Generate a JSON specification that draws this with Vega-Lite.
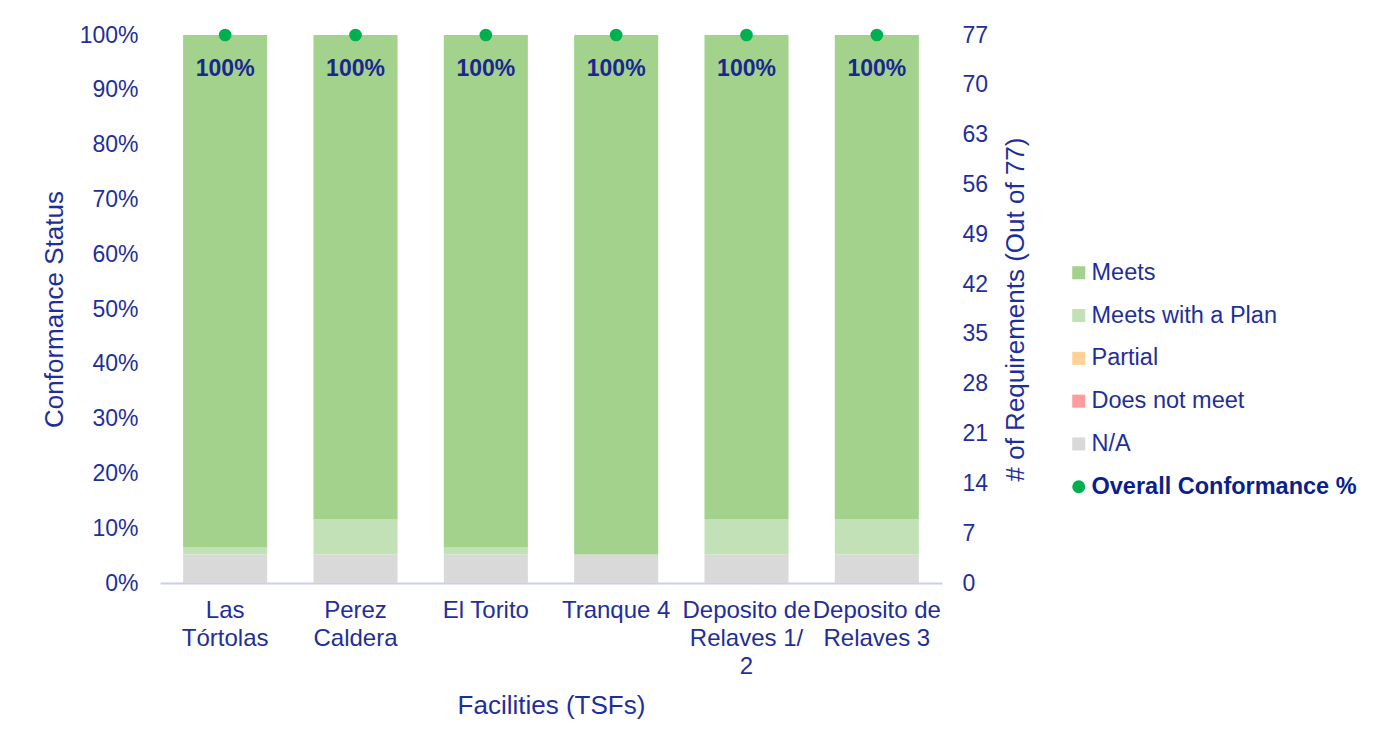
{
  "$schema": "https://vega.github.io/schema/vega-lite/v6.json",
  "width": 782,
  "height": 548,
  "autosize": {"type": "none"},
  "padding": {"left": 160, "top": 35, "right": 453, "bottom": 168},
  "background": "white",
  "config": {
    "font": "Liberation Sans",
    "view": {"stroke": null},
    "axis": {"labelColor": "#1F2F9A", "titleColor": "#1F2F9A", "labelFontSize": 23, "titleFontSize": 26, "titleFontWeight": "normal", "grid": false, "ticks": false, "labelFont": "Liberation Sans", "titleFont": "Liberation Sans"}
  },
  "layer": [
    {
      "data": {"values": [
        {"Facility": "Las Tórtolas", "Status": "N/A", "ord": 1, "count": 4},
        {"Facility": "Las Tórtolas", "Status": "Does not meet", "ord": 2, "count": 0},
        {"Facility": "Las Tórtolas", "Status": "Partial", "ord": 3, "count": 0},
        {"Facility": "Las Tórtolas", "Status": "Meets with a Plan", "ord": 4, "count": 1},
        {"Facility": "Las Tórtolas", "Status": "Meets", "ord": 5, "count": 72},
        {"Facility": "Perez Caldera", "Status": "N/A", "ord": 1, "count": 4},
        {"Facility": "Perez Caldera", "Status": "Does not meet", "ord": 2, "count": 0},
        {"Facility": "Perez Caldera", "Status": "Partial", "ord": 3, "count": 0},
        {"Facility": "Perez Caldera", "Status": "Meets with a Plan", "ord": 4, "count": 5},
        {"Facility": "Perez Caldera", "Status": "Meets", "ord": 5, "count": 68},
        {"Facility": "El Torito", "Status": "N/A", "ord": 1, "count": 4},
        {"Facility": "El Torito", "Status": "Does not meet", "ord": 2, "count": 0},
        {"Facility": "El Torito", "Status": "Partial", "ord": 3, "count": 0},
        {"Facility": "El Torito", "Status": "Meets with a Plan", "ord": 4, "count": 1},
        {"Facility": "El Torito", "Status": "Meets", "ord": 5, "count": 72},
        {"Facility": "Tranque 4", "Status": "N/A", "ord": 1, "count": 4},
        {"Facility": "Tranque 4", "Status": "Does not meet", "ord": 2, "count": 0},
        {"Facility": "Tranque 4", "Status": "Partial", "ord": 3, "count": 0},
        {"Facility": "Tranque 4", "Status": "Meets with a Plan", "ord": 4, "count": 0},
        {"Facility": "Tranque 4", "Status": "Meets", "ord": 5, "count": 73},
        {"Facility": "Deposito de Relaves 1/2", "Status": "N/A", "ord": 1, "count": 4},
        {"Facility": "Deposito de Relaves 1/2", "Status": "Does not meet", "ord": 2, "count": 0},
        {"Facility": "Deposito de Relaves 1/2", "Status": "Partial", "ord": 3, "count": 0},
        {"Facility": "Deposito de Relaves 1/2", "Status": "Meets with a Plan", "ord": 4, "count": 5},
        {"Facility": "Deposito de Relaves 1/2", "Status": "Meets", "ord": 5, "count": 68},
        {"Facility": "Deposito de Relaves 3", "Status": "N/A", "ord": 1, "count": 4},
        {"Facility": "Deposito de Relaves 3", "Status": "Does not meet", "ord": 2, "count": 0},
        {"Facility": "Deposito de Relaves 3", "Status": "Partial", "ord": 3, "count": 0},
        {"Facility": "Deposito de Relaves 3", "Status": "Meets with a Plan", "ord": 4, "count": 5},
        {"Facility": "Deposito de Relaves 3", "Status": "Meets", "ord": 5, "count": 68}
      ]},
      "mark": {"type": "bar"},
      "encoding": {
        "x": {
          "field": "Facility", "type": "nominal", "sort": null,
          "scale": {"paddingInner": 0.355, "paddingOuter": 0.1775},
          "axis": {
            "title": "Facilities (TSFs)", "labelAngle": 0, "domainColor": "#C9CEF2", "domainWidth": 2,
            "labelPadding": 15, "labelLineHeight": 28, "titlePadding": 14, "labelBaseline": "top", "labelFontSize": 24, "labelLimit": 200,
            "labelExpr": "datum.value == 'Las Tórtolas' ? ['Las', 'Tórtolas'] : datum.value == 'Perez Caldera' ? ['Perez', 'Caldera'] : datum.value == 'Deposito de Relaves 1/2' ? ['Deposito de', 'Relaves 1/', '2'] : datum.value == 'Deposito de Relaves 3' ? ['Deposito de', 'Relaves 3'] : datum.value"
          }
        },
        "y": {
          "field": "count", "type": "quantitative", "stack": "zero",
          "scale": {"domain": [0, 77], "nice": false},
          "axis": {"orient": "right", "title": "# of Requirements (Out of 77)", "titleAngle": 270, "values": [0, 7, 14, 21, 28, 35, 42, 49, 56, 63, 70, 77], "domain": false, "labelPadding": 20, "titlePadding": 41}
        },
        "order": {"field": "ord", "type": "quantitative"},
        "color": {
          "field": "Status", "type": "nominal",
          "scale": {
            "domain": ["Meets", "Meets with a Plan", "Partial", "Does not meet", "N/A", "Overall Conformance %"],
            "range": ["#A2D28C", "#C2E1B6", "#FFD199", "#FF9C9C", "#D9D9D9", "#00B050"]
          },
          "legend": {
            "title": null, "orient": "none", "legendX": 907, "legendY": 226,
            "labelFontSize": 23.5, "labelColor": "#1F2F9A", "labelFont": "Liberation Sans", "labelLimit": 400,
            "symbolSize": 170, "symbolType": "square", "symbolStrokeWidth": 0, "rowPadding": 17.8, "labelOffset": 1,
            "encode": {
              "symbols": {"update": {"shape": {"signal": "datum.value === 'Overall Conformance %' ? 'circle' : 'square'"}, "strokeWidth": {"value": 0}}},
              "labels": {"update": {"fontWeight": {"signal": "datum.value === 'Overall Conformance %' ? 'bold' : 'normal'"}, "fill": {"signal": "datum.value === 'Overall Conformance %' ? '#0B1F8C' : '#1F2F9A'"}}}
            }
          }
        }
      }
    },
    {
      "data": {"values": [
        {"Facility": "Las Tórtolas", "Status": "Overall Conformance %", "pct": 1},
        {"Facility": "Perez Caldera", "Status": "Overall Conformance %", "pct": 1},
        {"Facility": "El Torito", "Status": "Overall Conformance %", "pct": 1},
        {"Facility": "Tranque 4", "Status": "Overall Conformance %", "pct": 1},
        {"Facility": "Deposito de Relaves 1/2", "Status": "Overall Conformance %", "pct": 1},
        {"Facility": "Deposito de Relaves 3", "Status": "Overall Conformance %", "pct": 1}
      ]},
      "layer": [
        {
          "mark": {"type": "point", "filled": true, "opacity": 1, "size": 160, "shape": "circle"},
          "encoding": {
            "x": {"field": "Facility", "type": "nominal", "sort": null},
            "y": {
              "field": "pct", "type": "quantitative",
              "scale": {"domain": [0, 1], "nice": false},
              "axis": {"orient": "left", "title": "Conformance Status", "values": [0, 0.1, 0.2, 0.3, 0.4, 0.5, 0.6, 0.7, 0.8, 0.9, 1], "format": ".0%", "domain": false, "labelPadding": 22, "titlePadding": 12}
            },
            "color": {"field": "Status", "type": "nominal"}
          }
        },
        {
          "mark": {"type": "text", "dy": 34, "fontSize": 23, "fontWeight": "bold", "color": "#1A2790", "font": "Liberation Sans"},
          "encoding": {
            "x": {"field": "Facility", "type": "nominal", "sort": null},
            "y": {"field": "pct", "type": "quantitative"},
            "text": {"field": "pct", "type": "quantitative", "format": ".0%"}
          }
        }
      ]
    }
  ],
  "resolve": {"scale": {"y": "independent"}, "axis": {"y": "independent"}}
}
